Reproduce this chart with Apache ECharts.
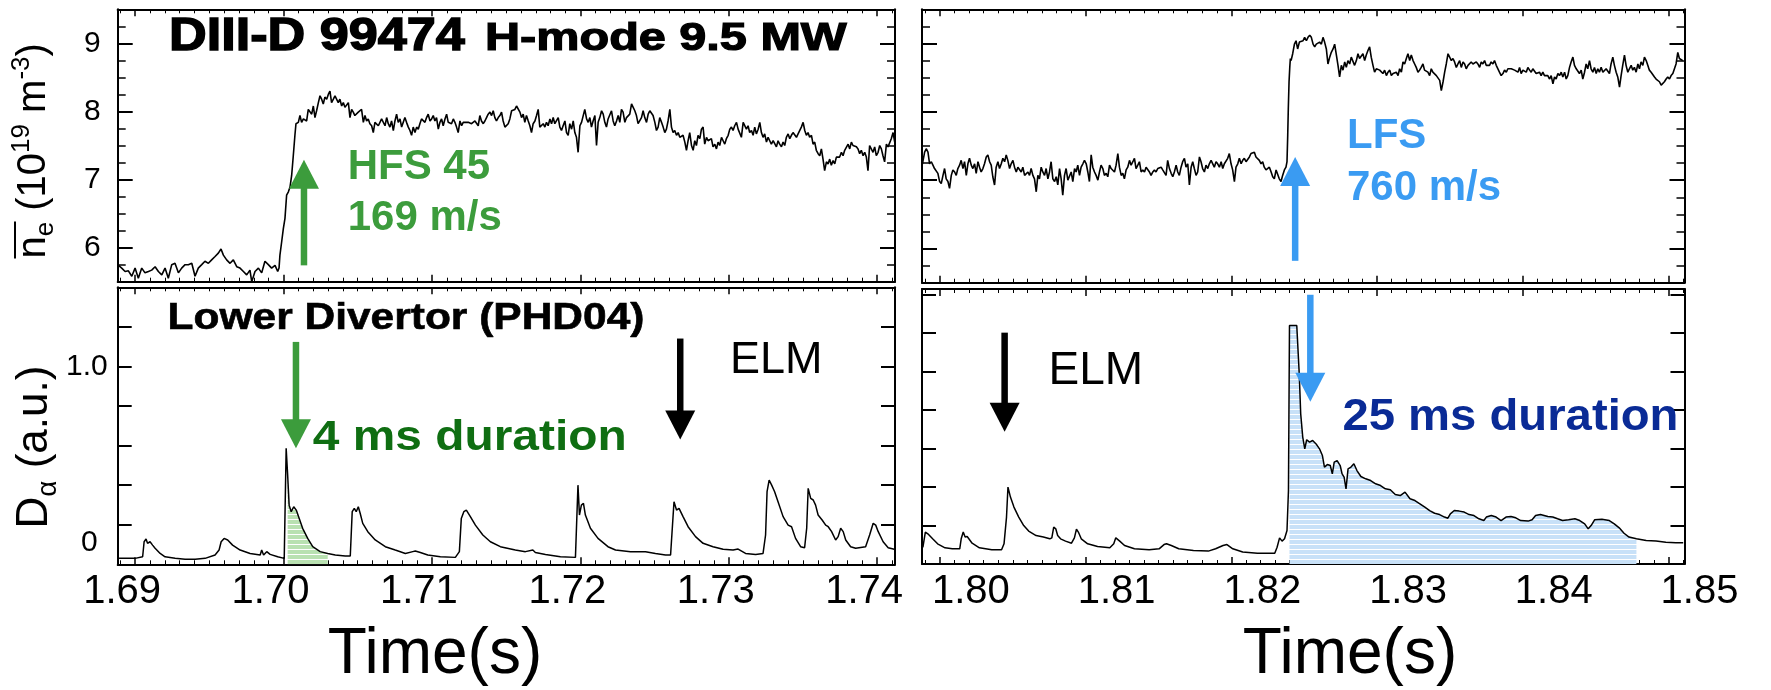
<!DOCTYPE html>
<html>
<head>
<meta charset="utf-8">
<title>DIII-D 99474 pellet injection</title>
<script src="https://cdn.jsdelivr.net/npm/echarts@6/dist/echarts.min.js"></script>
<style>
  html, body { margin: 0; padding: 0; background: #ffffff; }
  #chart { width: 1771px; height: 690px; }
</style>
</head>
<body>
<div id="chart"></div>
<script>
// ---------------------------------------------------------------------------
// Data: line-averaged density (10^19 m^-3) and lower divertor D-alpha (a.u.)
// Each sample is [time (s), value].
// ---------------------------------------------------------------------------

// Time windows and tick labels of the two columns
const leftTimeRange = [1.68883, 1.7412];
const rightTimeRange = [1.79877, 1.8511];
const leftTimeLabels = ['1.69', '1.70', '1.71', '1.72', '1.73', '1.74'];
const rightTimeLabels = ['1.80', '1.81', '1.82', '1.83', '1.84', '1.85'];
const densityRange = [5.5, 9.5];
const densityLabels = ['6', '7', '8', '9'];
const dalphaLeftRange = [0, 1.4];
const dalphaRightRange = [0, 1.43];
const dalphaLabels = ['0', '1.0'];

// Density, HFS pellet (left column)
const neLeft = [[1.68883,5.75],[1.68910,5.70],[1.68933,5.65],[1.68955,5.66],[1.68978,5.58],[1.69000,5.70],[1.69022,5.55],[1.69045,5.70],[1.69067,5.63],[1.69090,5.65],[1.69112,5.67],[1.69135,5.72],[1.69157,5.65],[1.69180,5.60],[1.69202,5.70],[1.69224,5.55],[1.69247,5.75],[1.69269,5.77],[1.69292,5.63],[1.69314,5.70],[1.69337,5.75],[1.69359,5.75],[1.69382,5.77],[1.69404,5.58],[1.69426,5.70],[1.69449,5.75],[1.69471,5.80],[1.69494,5.77],[1.69516,5.82],[1.69539,5.87],[1.69561,5.92],[1.69579,5.98],[1.69595,5.89],[1.69617,5.82],[1.69640,5.77],[1.69662,5.82],[1.69685,5.72],[1.69707,5.70],[1.69730,5.65],[1.69752,5.60],[1.69774,5.67],[1.69786,5.50],[1.69808,5.65],[1.69831,5.70],[1.69853,5.63],[1.69875,5.80],[1.69898,5.75],[1.69920,5.70],[1.69943,5.74],[1.69961,5.65],[1.69970,5.70],[1.69976,5.89],[1.69988,6.09],[1.69999,6.28],[1.70010,6.43],[1.70021,6.77],[1.70033,6.82],[1.70044,6.89],[1.70055,7.06],[1.70066,7.35],[1.70077,7.65],[1.70084,7.82],[1.70100,7.84],[1.70111,7.94],[1.70122,7.84],[1.70134,7.89],[1.70145,7.91],[1.70156,7.86],[1.70167,8.03],[1.70178,8.01],[1.70190,7.96],[1.70201,8.08],[1.70212,7.91],[1.70223,8.01],[1.70235,8.13],[1.70246,8.23],[1.70257,8.18],[1.70268,8.11],[1.70279,8.21],[1.70291,8.18],[1.70302,8.25],[1.70313,8.30],[1.70324,8.13],[1.70336,8.18],[1.70347,8.23],[1.70358,8.21],[1.70369,8.13],[1.70380,8.18],[1.70392,8.08],[1.70403,8.13],[1.70414,8.06],[1.70437,8.13],[1.70448,7.91],[1.70459,8.03],[1.70470,7.99],[1.70481,7.94],[1.70504,7.99],[1.70526,8.03],[1.70538,7.84],[1.70549,7.94],[1.70560,7.86],[1.70571,7.89],[1.70582,7.82],[1.70594,7.79],[1.70605,7.69],[1.70616,7.84],[1.70627,7.86],[1.70639,7.79],[1.70661,7.89],[1.70684,7.79],[1.70695,7.91],[1.70706,7.82],[1.70717,7.77],[1.70728,7.86],[1.70740,7.72],[1.70751,7.86],[1.70762,7.96],[1.70773,7.84],[1.70785,7.89],[1.70796,7.77],[1.70807,7.84],[1.70818,7.91],[1.70829,7.84],[1.70841,7.77],[1.70852,7.72],[1.70863,7.65],[1.70874,7.77],[1.70886,7.69],[1.70897,7.77],[1.70908,7.74],[1.70919,7.82],[1.70930,7.89],[1.70953,7.84],[1.70964,7.91],[1.70975,7.96],[1.70987,7.86],[1.70998,7.89],[1.71009,7.94],[1.71020,7.86],[1.71031,7.91],[1.71043,7.74],[1.71054,7.84],[1.71065,7.89],[1.71076,7.79],[1.71088,7.89],[1.71099,7.96],[1.71110,7.84],[1.71121,7.86],[1.71132,7.82],[1.71144,7.89],[1.71155,7.84],[1.71166,7.77],[1.71177,7.69],[1.71189,7.86],[1.71200,7.79],[1.71211,7.84],[1.71222,7.82],[1.71245,7.84],[1.71267,7.82],[1.71290,7.86],[1.71312,7.79],[1.71323,7.94],[1.71334,7.86],[1.71346,7.82],[1.71357,7.86],[1.71368,7.91],[1.71379,7.96],[1.71391,7.99],[1.71402,7.94],[1.71413,8.01],[1.71424,7.91],[1.71435,7.86],[1.71447,7.91],[1.71458,7.94],[1.71469,7.99],[1.71480,7.86],
[1.71492,7.77],[1.71514,7.82],[1.71525,7.89],[1.71537,8.01],[1.71548,7.99],[1.71559,8.03],[1.71570,8.08],[1.71581,8.08],[1.71593,7.99],[1.71604,7.91],[1.71615,7.96],[1.71626,7.84],[1.71637,7.94],[1.71649,7.86],[1.71660,7.79],[1.71671,7.69],[1.71682,7.82],[1.71694,7.86],[1.71705,7.94],[1.71716,8.03],[1.71727,7.77],[1.71739,7.79],[1.71750,7.82],[1.71761,7.77],[1.71772,7.84],[1.71783,7.79],[1.71795,7.89],[1.71806,7.82],[1.71817,7.91],[1.71828,7.82],[1.71840,7.84],[1.71851,7.91],[1.71862,7.77],[1.71873,7.72],[1.71884,7.79],[1.71896,7.86],[1.71907,7.69],[1.71918,7.65],[1.71929,7.82],[1.71941,7.74],[1.71952,7.86],[1.71963,7.69],[1.71974,7.62],[1.71985,7.40],[1.71997,7.79],[1.72008,7.84],[1.72019,7.86],[1.72030,8.03],[1.72042,7.89],[1.72053,7.84],[1.72064,7.91],[1.72075,7.77],[1.72086,7.86],[1.72098,7.94],[1.72109,7.50],[1.72120,7.84],[1.72131,7.91],[1.72143,8.01],[1.72154,7.96],[1.72165,7.84],[1.72176,7.77],[1.72187,7.89],[1.72199,7.91],[1.72210,8.01],[1.72221,7.86],[1.72232,7.79],[1.72244,7.86],[1.72255,7.94],[1.72266,7.84],[1.72277,8.03],[1.72288,7.99],[1.72300,7.84],[1.72311,7.91],[1.72322,7.89],[1.72333,7.96],[1.72345,8.11],[1.72356,8.06],[1.72367,8.01],[1.72378,7.94],[1.72389,7.82],[1.72401,7.84],[1.72412,7.91],[1.72423,8.01],[1.72434,7.91],[1.72446,7.84],[1.72457,7.96],[1.72468,8.01],[1.72479,8.03],[1.72490,7.94],[1.72502,7.84],[1.72513,7.72],[1.72524,7.77],[1.72535,7.91],[1.72547,7.84],[1.72558,7.77],[1.72569,7.69],[1.72580,7.74],[1.72591,7.86],[1.72603,8.03],[1.72614,7.77],[1.72625,7.69],[1.72636,7.72],[1.72648,7.65],[1.72659,7.69],[1.72670,7.62],[1.72681,7.60],[1.72692,7.65],[1.72704,7.55],[1.72715,7.43],[1.72726,7.57],[1.72737,7.69],[1.72749,7.50],[1.72760,7.43],[1.72771,7.57],[1.72782,7.50],[1.72793,7.65],[1.72805,7.60],[1.72816,7.74],[1.72827,7.77],[1.72838,7.52],[1.72850,7.62],[1.72861,7.57],[1.72872,7.55],[1.72883,7.60],[1.72894,7.48],[1.72906,7.52],[1.72917,7.45],[1.72928,7.55],[1.72939,7.50],[1.72951,7.62],[1.72962,7.57],[1.72973,7.52],[1.72984,7.60],[1.72996,7.65],[1.73007,7.74],[1.73018,7.77],[1.73029,7.72],[1.73040,7.79],[1.73052,7.84],[1.73063,7.74],[1.73074,7.72],[1.73085,7.62],[1.73097,7.84],[1.73108,7.86],[1.73119,7.74],[1.73130,7.79],[1.73141,7.69],[1.73153,7.72],[1.73164,7.65],[1.73175,7.77],[1.73186,7.67],[1.73198,7.74],[1.73209,7.84],[1.73220,7.69],[1.73231,7.62],[1.73242,7.67],[1.73254,7.55],[1.73265,7.62],[1.73276,7.57],[1.73287,7.52],[1.73299,7.57],[1.73310,7.55],[1.73321,7.48],[1.73332,7.57],[1.73343,7.52],[1.73355,7.48],[1.73366,7.55],[1.73377,7.50],[1.73388,7.62],[1.73400,7.67],[1.73411,7.60],[1.73422,7.65],[1.73433,7.69],[1.73444,7.67],[1.73456,7.62],[1.73467,7.67],[1.73478,7.69],[1.73489,7.77],[1.73501,7.84],[1.73512,7.72],[1.73523,7.65],[1.73534,7.69],[1.73545,7.62],[1.73557,7.65],[1.73568,7.52],[1.73579,7.55],[1.73590,7.43],[1.73602,7.38],[1.73613,7.35],[1.73624,7.45],[1.73635,7.30],[1.73646,7.13],[1.73658,7.26],[1.73669,7.23],[1.73680,7.30],[1.73691,7.21],[1.73703,7.28],[1.73714,7.23],[1.73725,7.33],[1.73736,7.35],[1.73747,7.33],[1.73759,7.40],[1.73770,7.35],[1.73781,7.43],[1.73792,7.45],[1.73804,7.52],[1.73815,7.45],[1.73826,7.55],[1.73837,7.50],[1.73848,7.52],[1.73860,7.48],[1.73871,7.45],[1.73882,7.38],[1.73893,7.43],[1.73905,7.35],[1.73916,7.40],[1.73927,7.33],[1.73938,7.13],[1.73949,7.50],[1.73961,7.52],[1.73972,7.40],[1.73983,7.48],[1.73994,7.35],[1.74006,7.40],[1.74017,7.50],[1.74028,7.45],[1.74039,7.35],[1.74050,7.26],[1.74062,7.52],[1.74073,7.48],[1.74084,7.50],[1.74095,7.60],[1.74107,7.69],[1.74118,7.55]];

// Density, LFS pellet (right column)
const neRight = [[1.79872,7.17],[1.79883,7.27],[1.79895,7.41],[1.79906,7.46],[1.79918,7.41],[1.79929,7.24],[1.79941,7.27],[1.79952,7.22],[1.79963,7.17],[1.79975,7.19],[1.79986,7.10],[1.79998,6.98],[1.80009,6.95],[1.80021,7.07],[1.80032,7.17],[1.80043,7.02],[1.80055,6.98],[1.80066,6.88],[1.80078,7.07],[1.80089,7.15],[1.80101,7.12],[1.80112,7.07],[1.80123,7.17],[1.80135,7.22],[1.80146,7.29],[1.80158,7.17],[1.80169,7.27],[1.80181,7.07],[1.80192,7.24],[1.80203,7.32],[1.80215,7.22],[1.80226,7.17],[1.80238,7.24],[1.80249,7.10],[1.80261,7.27],[1.80272,7.19],[1.80283,7.12],[1.80295,7.17],[1.80306,7.24],[1.80318,7.34],[1.80329,7.37],[1.80341,7.27],[1.80352,7.22],[1.80363,7.05],[1.80375,6.93],[1.80386,7.19],[1.80398,7.27],[1.80409,7.17],[1.80421,7.24],[1.80432,7.32],[1.80444,7.27],[1.80455,7.37],[1.80466,7.29],[1.80478,7.17],[1.80489,7.24],[1.80501,7.29],[1.80512,7.19],[1.80524,7.12],[1.80535,7.19],[1.80546,7.17],[1.80558,7.12],[1.80569,7.19],[1.80581,7.07],[1.80592,7.05],[1.80604,7.12],[1.80615,7.07],[1.80626,7.17],[1.80638,7.07],[1.80649,7.02],[1.80661,6.83],[1.80672,7.07],[1.80683,7.02],[1.80695,7.19],[1.80706,7.12],[1.80718,7.07],[1.80729,7.17],[1.80741,7.02],[1.80752,7.12],[1.80763,7.27],[1.80775,7.02],[1.80787,6.98],[1.80798,7.05],[1.80809,6.93],[1.80821,7.17],[1.80832,7.02],[1.80843,6.78],[1.80855,7.07],[1.80866,7.17],[1.80878,7.00],[1.80889,7.02],[1.80901,7.12],[1.80912,6.98],[1.80924,7.17],[1.80935,7.12],[1.80946,7.22],[1.80958,7.07],[1.80969,7.19],[1.80981,7.24],[1.80992,7.29],[1.81004,7.24],[1.81015,7.12],[1.81026,6.98],[1.81038,7.37],[1.81049,7.19],[1.81061,7.12],[1.81072,7.07],[1.81084,7.00],[1.81095,7.12],[1.81106,7.22],[1.81118,7.17],[1.81129,7.07],[1.81141,7.10],[1.81152,7.05],[1.81164,7.22],[1.81175,7.17],[1.81186,7.19],[1.81198,7.12],[1.81209,7.22],[1.81221,7.39],[1.81232,7.19],[1.81244,7.07],[1.81255,7.10],[1.81266,7.02],[1.81278,7.15],[1.81289,7.19],[1.81301,7.29],[1.81312,7.22],[1.81324,7.27],[1.81335,7.32],[1.81346,7.17],[1.81358,7.22],[1.81369,7.27],[1.81381,7.12],[1.81392,7.15],[1.81404,7.12],[1.81415,7.19],[1.81426,7.17],[1.81438,7.12],[1.81449,7.07],[1.81461,7.12],[1.81472,7.15],[1.81483,7.12],[1.81495,7.17],[1.81506,7.15],[1.81518,7.19],[1.81529,7.15],[1.81541,7.17],[1.81552,7.07],[1.81563,7.29],[1.81575,7.17],[1.81587,7.10],[1.81598,7.05],[1.81609,7.12],[1.81621,7.22],[1.81632,7.12],[1.81643,7.07],[1.81655,7.19],[1.81666,7.27],[1.81678,7.32],[1.81689,7.19],[1.81701,7.24],[1.81712,6.93],[1.81724,7.19],[1.81735,7.27],[1.81746,7.17],[1.81758,7.07],[1.81769,7.12],[1.81781,7.34],[1.81792,7.27],[1.81803,7.17],[1.81815,7.12],[1.81826,7.22],[1.81838,7.17],[1.81849,7.24],[1.81861,7.29],[1.81872,7.27],[1.81883,7.19],[1.81895,7.27],[1.81906,7.24],[1.81918,7.19],[1.81930,7.27],[1.81941,7.17],[1.81952,7.24],[1.81964,7.22],[1.81975,7.32],[1.81986,7.39],[1.81998,7.24],[1.82009,7.15],[1.82021,6.98],[1.82032,7.19],[1.82044,7.24],[1.82055,7.32],[1.82067,7.24],[1.82078,7.29],[1.82089,7.32],[1.82101,7.27],[1.82112,7.29],[1.82124,7.34],[1.82135,7.39],[1.82146,7.37],[1.82158,7.41],[1.82169,7.34],[1.82181,7.32],[1.82192,7.29],[1.82204,7.24],[1.82215,7.27],[1.82226,7.19],[1.82238,7.15],[1.82249,7.17],[1.82261,7.19],[1.82273,7.12],[1.82284,7.05],[1.82295,7.02],[1.82307,7.15],[1.82318,7.17],[1.82329,7.02],[1.82341,6.98],[1.82352,7.07],[1.82364,7.15],[1.82375,7.19],[1.82382,7.27],[1.82387,7.66],[1.82391,8.05],[1.82396,8.44],[1.82401,8.65],[1.82405,8.78],[1.82410,8.75],[1.82421,8.85],[1.82433,8.99],[1.82444,9.04],[1.82455,8.92],[1.82467,9.02],[1.82478,9.04],
[1.82492,9.04],[1.82503,9.09],[1.82515,9.04],[1.82526,9.09],[1.82538,9.12],[1.82549,9.09],[1.82561,8.99],[1.82572,8.95],[1.82583,8.99],[1.82595,8.97],[1.82606,9.02],[1.82618,8.99],[1.82629,9.09],[1.82640,9.02],[1.82652,8.92],[1.82663,8.70],[1.82675,8.80],[1.82686,8.87],[1.82698,8.92],[1.82709,8.99],[1.82721,8.83],[1.82732,8.68],[1.82743,8.51],[1.82755,8.68],[1.82766,8.61],[1.82778,8.73],[1.82789,8.65],[1.82800,8.75],[1.82812,8.70],[1.82823,8.80],[1.82835,8.78],[1.82846,8.68],[1.82858,8.75],[1.82869,8.85],[1.82880,8.78],[1.82892,8.80],[1.82903,8.85],[1.82915,8.75],[1.82926,8.83],[1.82938,8.90],[1.82949,8.95],[1.82960,8.80],[1.82972,8.68],[1.82983,8.58],[1.82995,8.63],[1.83006,8.65],[1.83018,8.61],[1.83029,8.63],[1.83040,8.56],[1.83052,8.61],[1.83064,8.53],[1.83075,8.58],[1.83087,8.61],[1.83098,8.53],[1.83110,8.56],[1.83121,8.56],[1.83132,8.58],[1.83144,8.53],[1.83155,8.63],[1.83167,8.58],[1.83178,8.73],[1.83189,8.70],[1.83201,8.78],[1.83212,8.85],[1.83224,8.75],[1.83235,8.83],[1.83247,8.75],[1.83258,8.70],[1.83269,8.65],[1.83281,8.58],[1.83292,8.61],[1.83303,8.65],[1.83315,8.70],[1.83326,8.61],[1.83338,8.63],[1.83349,8.58],[1.83361,8.53],[1.83372,8.63],[1.83383,8.58],[1.83395,8.56],[1.83407,8.53],[1.83418,8.51],[1.83430,8.46],[1.83441,8.31],[1.83453,8.44],[1.83464,8.58],[1.83475,8.70],[1.83487,8.85],[1.83498,8.83],[1.83510,8.75],[1.83521,8.78],[1.83532,8.73],[1.83544,8.65],[1.83555,8.70],[1.83567,8.75],[1.83578,8.65],[1.83590,8.73],[1.83601,8.70],[1.83612,8.63],[1.83624,8.68],[1.83635,8.70],[1.83646,8.73],[1.83658,8.70],[1.83669,8.68],[1.83681,8.73],[1.83692,8.70],[1.83704,8.65],[1.83715,8.73],[1.83726,8.70],[1.83738,8.75],[1.83749,8.68],[1.83760,8.70],[1.83772,8.68],[1.83783,8.73],[1.83795,8.70],[1.83806,8.75],[1.83818,8.68],[1.83829,8.70],[1.83840,8.58],[1.83852,8.53],[1.83864,8.56],[1.83875,8.61],[1.83887,8.58],[1.83898,8.63],[1.83909,8.65],[1.83921,8.63],[1.83932,8.65],[1.83944,8.61],[1.83955,8.63],[1.83967,8.58],[1.83978,8.65],[1.83989,8.56],[1.84001,8.61],[1.84012,8.63],[1.84024,8.58],[1.84035,8.65],[1.84047,8.61],[1.84058,8.58],[1.84069,8.63],[1.84081,8.61],[1.84092,8.56],[1.84103,8.58],[1.84115,8.58],[1.84126,8.53],[1.84138,8.58],[1.84149,8.53],[1.84161,8.51],[1.84172,8.53],[1.84183,8.48],[1.84195,8.53],[1.84207,8.41],[1.84218,8.51],[1.84229,8.48],[1.84241,8.56],[1.84252,8.53],[1.84264,8.58],[1.84275,8.51],[1.84287,8.58],[1.84298,8.48],[1.84309,8.53],[1.84321,8.65],[1.84332,8.73],[1.84344,8.80],[1.84355,8.68],[1.84367,8.63],[1.84378,8.65],[1.84389,8.56],[1.84401,8.61],[1.84412,8.48],[1.84424,8.58],[1.84435,8.70],[1.84446,8.63],[1.84458,8.75],[1.84469,8.63],[1.84481,8.58],[1.84492,8.65],[1.84504,8.56],[1.84515,8.63],[1.84526,8.58],[1.84538,8.65],[1.84550,8.58],[1.84561,8.56],[1.84572,8.63],[1.84584,8.61],[1.84595,8.56],[1.84606,8.70],[1.84618,8.80],[1.84629,8.68],[1.84641,8.58],[1.84652,8.51],[1.84664,8.36],[1.84675,8.53],[1.84686,8.68],[1.84698,8.83],[1.84709,8.68],[1.84721,8.58],[1.84732,8.63],[1.84744,8.68],[1.84755,8.61],[1.84766,8.65],[1.84778,8.58],[1.84790,8.70],[1.84801,8.63],[1.84812,8.73],[1.84824,8.68],[1.84835,8.80],[1.84847,8.75],[1.84858,8.68],[1.84869,8.61],[1.84881,8.58],[1.84893,8.56],[1.84904,8.51],[1.84915,8.48],[1.84927,8.46],[1.84938,8.44],[1.84950,8.39],[1.84961,8.41],[1.84972,8.44],[1.84984,8.48],[1.84995,8.51],[1.85007,8.48],[1.85018,8.53],[1.85030,8.56],[1.85041,8.63],[1.85052,8.70],[1.85064,8.87],[1.85075,8.78],[1.85087,8.78],[1.85098,8.75]];

// Lower divertor D-alpha, HFS pellet (left column)
const dalphaLeft = [[1.68892,0.030],[1.68933,0.030],[1.69000,0.030],[1.69051,0.038],[1.69061,0.114],[1.69074,0.128],[1.69084,0.106],[1.69101,0.114],[1.69118,0.097],[1.69135,0.081],[1.69169,0.055],[1.69202,0.038],[1.69270,0.030],[1.69337,0.025],[1.69405,0.025],[1.69472,0.030],[1.69539,0.047],[1.69566,0.072],[1.69580,0.114],[1.69600,0.131],[1.69624,0.123],[1.69657,0.097],[1.69708,0.072],[1.69775,0.055],[1.69843,0.047],[1.69853,0.072],[1.69866,0.047],[1.69887,0.064],[1.69910,0.050],[1.69961,0.038],[1.70005,0.030],[1.70018,0.586],[1.70028,0.451],[1.70038,0.299],[1.70052,0.266],[1.70069,0.291],[1.70086,0.274],[1.70106,0.232],[1.70129,0.182],[1.70163,0.131],[1.70197,0.089],[1.70247,0.064],[1.70298,0.055],[1.70349,0.047],[1.70416,0.042],[1.70450,0.042],[1.70463,0.266],[1.70477,0.283],[1.70490,0.266],[1.70504,0.291],[1.70517,0.257],[1.70534,0.207],[1.70568,0.165],[1.70618,0.123],[1.70686,0.089],[1.70753,0.072],[1.70821,0.055],[1.70871,0.064],[1.70888,0.067],[1.70922,0.060],[1.70972,0.047],[1.71057,0.038],[1.71158,0.035],[1.71185,0.064],[1.71198,0.232],[1.71215,0.266],[1.71232,0.274],[1.71245,0.283],[1.71259,0.241],[1.71293,0.198],[1.71343,0.148],[1.71394,0.114],[1.71461,0.089],[1.71562,0.072],[1.71630,0.064],[1.71680,0.072],[1.71697,0.060],[1.71765,0.050],[1.71866,0.038],[1.71967,0.035],[1.71984,0.400],[1.71994,0.249],[1.72007,0.299],[1.72021,0.308],[1.72034,0.249],[1.72068,0.182],[1.72119,0.131],[1.72186,0.089],[1.72237,0.072],[1.72338,0.064],[1.72439,0.064],[1.72506,0.055],[1.72574,0.047],[1.72608,0.047],[1.72631,0.316],[1.72648,0.274],[1.72665,0.283],[1.72692,0.241],[1.72726,0.190],[1.72776,0.140],[1.72827,0.106],[1.72894,0.089],[1.72962,0.076],[1.73029,0.072],[1.73063,0.077],[1.73113,0.055],[1.73181,0.050],[1.73231,0.055],[1.73248,0.148],[1.73258,0.367],[1.73272,0.426],[1.73289,0.400],[1.73309,0.367],[1.73332,0.316],[1.73366,0.241],[1.73400,0.198],[1.73423,0.190],[1.73450,0.131],[1.73484,0.089],[1.73511,0.084],[1.73525,0.182],[1.73535,0.384],[1.73552,0.333],[1.73569,0.325],[1.73585,0.299],[1.73602,0.249],[1.73629,0.224],[1.73653,0.198],[1.73670,0.190],[1.73693,0.165],[1.73720,0.123],[1.73737,0.140],[1.73754,0.182],[1.73771,0.165],[1.73788,0.123],[1.73821,0.089],[1.73855,0.081],[1.73922,0.089],[1.73949,0.148],[1.73973,0.207],[1.73990,0.198],[1.74007,0.165],[1.74040,0.114],[1.74074,0.084],[1.74108,0.077],[1.74132,0.072]];

// Lower divertor D-alpha, LFS pellet (right column)
const dalphaRight = [[1.79883,0.087],[1.79900,0.166],[1.79917,0.157],[1.79950,0.131],[1.79984,0.105],[1.80035,0.084],[1.80085,0.079],[1.80136,0.079],[1.80146,0.131],[1.80160,0.166],[1.80173,0.140],[1.80187,0.143],[1.80221,0.108],[1.80271,0.084],[1.80356,0.074],[1.80423,0.074],[1.80440,0.105],[1.80457,0.244],[1.80467,0.400],[1.80484,0.348],[1.80508,0.296],[1.80541,0.244],[1.80575,0.200],[1.80609,0.171],[1.80660,0.148],[1.80710,0.140],[1.80754,0.131],[1.80768,0.136],[1.80781,0.192],[1.80795,0.183],[1.80808,0.148],[1.80828,0.131],[1.80862,0.119],[1.80903,0.108],[1.80923,0.136],[1.80937,0.181],[1.80950,0.166],[1.80970,0.131],[1.81014,0.105],[1.81082,0.091],[1.81166,0.084],[1.81193,0.105],[1.81207,0.136],[1.81234,0.119],[1.81267,0.096],[1.81335,0.079],[1.81436,0.074],[1.81504,0.079],[1.81538,0.101],[1.81555,0.105],[1.81588,0.096],[1.81639,0.079],[1.81740,0.070],[1.81842,0.067],[1.81892,0.079],[1.81943,0.096],[1.81970,0.101],[1.82010,0.079],[1.82078,0.062],[1.82179,0.056],[1.82298,0.056],[1.82314,0.087],[1.82331,0.136],[1.82348,0.119],[1.82365,0.131],[1.82382,0.174],[1.82392,0.382],[1.82399,1.240],[1.82449,1.240],[1.82456,1.235],[1.82466,0.989],[1.82476,0.781],[1.82490,0.660],[1.82504,0.599],[1.82517,0.646],[1.82537,0.634],[1.82558,0.642],[1.82585,0.621],[1.82605,0.599],[1.82625,0.564],[1.82639,0.504],[1.82659,0.517],[1.82679,0.512],[1.82693,0.469],[1.82706,0.530],[1.82726,0.538],[1.82747,0.512],[1.82760,0.469],[1.82774,0.452],[1.82787,0.391],[1.82801,0.495],[1.82821,0.504],[1.82841,0.521],[1.82862,0.486],[1.82889,0.455],[1.82922,0.443],[1.82956,0.434],[1.82990,0.417],[1.83024,0.408],[1.83057,0.391],[1.83091,0.386],[1.83125,0.361],[1.83159,0.356],[1.83192,0.374],[1.83226,0.339],[1.83260,0.330],[1.83294,0.313],[1.83328,0.296],[1.83361,0.278],[1.83395,0.264],[1.83429,0.257],[1.83463,0.244],[1.83486,0.238],[1.83503,0.261],[1.83530,0.278],[1.83564,0.275],[1.83598,0.270],[1.83632,0.257],[1.83665,0.252],[1.83699,0.235],[1.83733,0.226],[1.83750,0.244],[1.83784,0.252],[1.83817,0.244],[1.83851,0.226],[1.83885,0.244],[1.83919,0.247],[1.83952,0.240],[1.83986,0.226],[1.84037,0.223],[1.84064,0.230],[1.84088,0.252],[1.84121,0.257],[1.84172,0.247],[1.84206,0.244],[1.84239,0.235],[1.84273,0.226],[1.84314,0.230],[1.84358,0.235],[1.84391,0.226],[1.84425,0.209],[1.84449,0.183],[1.84469,0.200],[1.84493,0.230],[1.84543,0.233],[1.84594,0.226],[1.84628,0.209],[1.84662,0.188],[1.84695,0.160],[1.84729,0.140],[1.84780,0.131],[1.84847,0.122],[1.84915,0.119],[1.84982,0.113],[1.85050,0.110],[1.85101,0.110]];

// Time windows of the shaded D-alpha response (4 ms HFS, 25 ms LFS)
const hfsFillWindow = [1.70020, 1.70298];
const lfsFillWindow = [1.82395, 1.84805];

// Arrows: [time, tail value, tip value]
const hfsDensityArrow = [1.70138, 5.74, 7.29];
const hfsDalphaArrow = [1.70084, 1.124, 0.586];
const elmLeftArrow = [1.72673, 1.141, 0.631];
const elmRightArrow = [1.80444, 1.203, 0.688];
const lfsDensityArrow = [1.82438, 5.82, 7.34];
const lfsDalphaArrow = [1.82542, 1.40, 0.844];

// ---------------------------------------------------------------------------
// Chart
// ---------------------------------------------------------------------------
const FONT = "'Liberation Sans', Arial, Helvetica, sans-serif";
const BLACK = '#000000';
const GREEN = '#3c9c3c';
const DARK_GREEN = '#0f6e12';
const BLUE = '#3a9bf2';
const DARK_BLUE = '#0a2b96';

function pickLabel(list) {
  return function (v) {
    for (const s of list) {
      if (Math.abs(parseFloat(s) - v) < 1e-7) return s;
    }
    return '';
  };
}

const axisLineStyle = { show: true, onZero: false, lineStyle: { color: BLACK, width: 2 } };

function timeAxis(gridIndex, range, position, labels, labelPadding) {
  return {
    type: 'value', gridIndex: gridIndex, position: position,
    min: range[0], max: range[1],
    minInterval: 0.01, maxInterval: 0.01, splitNumber: 5,
    axisLine: axisLineStyle,
    axisTick: { show: true, inside: true, length: 7, lineStyle: { color: BLACK, width: 1.5 } },
    minorTick: { show: true, splitNumber: 10, length: 4, lineStyle: { color: BLACK, width: 1 } },
    splitLine: { show: false },
    minorSplitLine: { show: false },
    axisLabel: labels ? {
      show: true, margin: 8, color: BLACK, fontFamily: FONT, fontSize: 40,
      padding: labelPadding, formatter: pickLabel(labels)
    } : { show: false }
  };
}

function densityAxis(gridIndex, position, labels) {
  return {
    type: 'value', gridIndex: gridIndex, position: position,
    min: densityRange[0], max: densityRange[1],
    minInterval: 1, maxInterval: 1,
    axisLine: axisLineStyle,
    axisTick: { show: true, inside: true, length: 15, lineStyle: { color: BLACK, width: 2 } },
    minorTick: { show: true, splitNumber: 4, length: 8, lineStyle: { color: BLACK, width: 1.5 } },
    splitLine: { show: false },
    minorSplitLine: { show: false },
    axisLabel: labels ? {
      show: true, margin: 17, color: BLACK, fontFamily: FONT, fontSize: 30,
      formatter: pickLabel(labels)
    } : { show: false }
  };
}

function dalphaAxis(gridIndex, position, range, labels) {
  return {
    type: 'value', gridIndex: gridIndex, position: position,
    min: range[0], max: range[1], interval: 0.2,
    axisLine: axisLineStyle,
    axisTick: { show: true, inside: true, length: 14, lineStyle: { color: BLACK, width: 2 } },
    splitLine: { show: false },
    axisLabel: labels ? {
      show: true, margin: 10, color: BLACK, fontFamily: FONT, fontSize: 30,
      formatter: function (v) {
        const s = pickLabel(labels)(v);
        // the zero label sits a little above the baseline
        return s === labels[0] ? '{zero|' + s + '}' : s;
      },
      rich: { zero: { fontFamily: FONT, fontSize: 30, color: BLACK, padding: [0, 10, 44, 0] } }
    } : { show: false }
  };
}

// striped (hatched) fill for the shaded response windows
function stripes(color) {
  const c = document.createElement('canvas');
  c.width = 8; c.height = 5;
  const g = c.getContext('2d');
  g.fillStyle = color; g.fillRect(0, 0, 8, 4);
  g.fillStyle = '#ffffff'; g.fillRect(0, 4, 8, 1);
  return { image: c, repeat: 'repeat' };
}

function inWindow(data, w) {
  return data.filter(function (p) { return p[0] >= w[0] && p[0] <= w[1]; });
}

function traceSeries(xi, yi, data, width) {
  return {
    type: 'line', xAxisIndex: xi, yAxisIndex: yi, data: data,
    showSymbol: false, symbol: 'none', silent: true, z: 3,
    lineStyle: { color: BLACK, width: width }
  };
}

function fillSeries(xi, yi, data, color) {
  return {
    type: 'line', xAxisIndex: xi, yAxisIndex: yi, data: data,
    showSymbol: false, symbol: 'none', silent: true, z: 1,
    lineStyle: { width: 0, opacity: 0 },
    areaStyle: { color: stripes(color), opacity: 1, origin: 'start' }
  };
}

const ARROW = { shaft: 6.5, headWidth: 30, headLength: 29 };

function arrowSeries(xi, yi, arrow, color) {
  return {
    type: 'custom', xAxisIndex: xi, yAxisIndex: yi, data: [arrow],
    silent: true, clip: false, z: 6,
    encode: { x: 0, y: [1, 2] },
    renderItem: function (params, api) {
      const tail = api.coord([api.value(0), api.value(1)]);
      const tip = api.coord([api.value(0), api.value(2)]);
      const dir = tip[1] > tail[1] ? 1 : -1;
      const baseY = tip[1] - dir * ARROW.headLength;
      const hw = ARROW.headWidth / 2;
      return {
        type: 'group',
        children: [
          { type: 'line', shape: { x1: tail[0], y1: tail[1], x2: tip[0], y2: baseY + dir },
            style: { stroke: color, lineWidth: ARROW.shaft } },
          { type: 'polygon', shape: { points: [[tip[0], tip[1]], [tip[0] - hw, baseY], [tip[0] + hw, baseY]] },
            style: { fill: color } }
        ]
      };
    }
  };
}

function note(text, x, y, size, opts) {
  opts = opts || {};
  const color = opts.color || BLACK;
  return {
    type: 'text', x: x, y: y, scaleX: opts.scaleX || 1, silent: true, z: 100,
    style: {
      text: text, fontFamily: FONT, fontSize: size,
      fontWeight: opts.bold ? 'bold' : 'normal',
      fill: color,
      stroke: opts.heavy ? color : null,
      lineWidth: opts.heavy || 0,
      align: opts.align || 'left', verticalAlign: 'middle'
    }
  };
}

const chart = echarts.init(document.getElementById('chart'), null, { renderer: 'canvas', width: 1771, height: 690 });

const option = {
  animation: false,
  backgroundColor: '#ffffff',
  textStyle: { fontFamily: FONT },
  grid: [
    { left: 117.7, top: 9.3, width: 777.3, height: 272.4, outerBoundsMode: 'none', containLabel: false },
    { left: 117.7, top: 287.3, width: 777.3, height: 277, outerBoundsMode: 'none', containLabel: false },
    { left: 922, top: 9.3, width: 762.5, height: 273.4, outerBoundsMode: 'none', containLabel: false },
    { left: 922, top: 289, width: 762.5, height: 275, outerBoundsMode: 'none', containLabel: false }
  ],
  xAxis: [
    timeAxis(0, leftTimeRange, 'bottom', null),
    timeAxis(0, leftTimeRange, 'top', null),
    timeAxis(1, leftTimeRange, 'bottom', leftTimeLabels, [0, 26, 0, 0]),
    timeAxis(1, leftTimeRange, 'top', null),
    timeAxis(2, rightTimeRange, 'bottom', null),
    timeAxis(2, rightTimeRange, 'top', null),
    timeAxis(3, rightTimeRange, 'bottom', rightTimeLabels, [0, 0, 0, 62]),
    timeAxis(3, rightTimeRange, 'top', null)
  ],
  yAxis: [
    densityAxis(0, 'left', densityLabels),
    densityAxis(0, 'right', null),
    dalphaAxis(1, 'left', dalphaLeftRange, dalphaLabels),
    dalphaAxis(1, 'right', dalphaLeftRange, null),
    densityAxis(2, 'left', null),
    densityAxis(2, 'right', null),
    dalphaAxis(3, 'left', dalphaRightRange, null),
    dalphaAxis(3, 'right', dalphaRightRange, null)
  ],
  series: [
    fillSeries(2, 2, inWindow(dalphaLeft, hfsFillWindow), '#b9e1b1'),
    fillSeries(6, 6, inWindow(dalphaRight, lfsFillWindow), '#c8e1f8'),
    traceSeries(0, 0, neLeft, 1.6),
    traceSeries(4, 4, neRight, 1.6),
    traceSeries(2, 2, dalphaLeft, 1.5),
    traceSeries(6, 6, dalphaRight, 1.5),
    arrowSeries(0, 0, hfsDensityArrow, GREEN),
    arrowSeries(2, 2, hfsDalphaArrow, GREEN),
    arrowSeries(2, 2, elmLeftArrow, BLACK),
    arrowSeries(6, 6, elmRightArrow, BLACK),
    arrowSeries(4, 4, lfsDensityArrow, BLUE),
    arrowSeries(6, 6, lfsDalphaArrow, BLUE)
  ],
  graphic: [
    note('DIII-D 99474', 169, 37, 45.5, { bold: true, scaleX: 1.147, heavy: 1.4 }),
    note('H-mode 9.5 MW', 485, 39.2, 39.5, { bold: true, scaleX: 1.23, heavy: 1.2 }),
    note('HFS 45', 347.7, 167.2, 42, { bold: true, color: GREEN }),
    note('169 m/s', 347.7, 218.7, 42, { bold: true, color: GREEN }),
    note('LFS', 1347, 136.7, 42, { bold: true, color: BLUE }),
    note('760 m/s', 1347, 188.3, 42, { bold: true, color: BLUE }),
    note('Lower Divertor (PHD04)', 167.6, 319.5, 36, { bold: true, scaleX: 1.18, heavy: 0.6 }),
    note('4 ms duration', 312.8, 438.3, 42, { bold: true, color: DARK_GREEN, scaleX: 1.14 }),
    note('ELM', 730, 361, 45),
    note('ELM', 1048.5, 371.7, 46),
    note('25 ms duration', 1342.4, 417.8, 45, { bold: true, color: DARK_BLUE, scaleX: 1.05 }),
    note('Time(s)', 435, 655.5, 64, { align: 'center' }),
    note('Time(s)', 1350, 655.5, 64, { align: 'center' }),
    // density axis title: overlined n_e (10^19 m^-3)
    {
      type: 'group', x: 34.3, y: 258.6, rotation: Math.PI / 2, silent: true, z: 100,
      children: [
        {
          type: 'text', x: 0, y: 0,
          style: {
            text: '{m|n}{sub|e}{m| (10}{sup|19}{m| m}{sup|-3}{m|)}',
            fontFamily: FONT, fontSize: 40, fill: BLACK, align: 'left', verticalAlign: 'middle',
            rich: {
              m: { fontFamily: FONT, fontSize: 40, lineHeight: 50, fill: BLACK, verticalAlign: 'middle' },
              sub: { fontFamily: FONT, fontSize: 26, lineHeight: 38, fill: BLACK, verticalAlign: 'bottom' },
              sup: { fontFamily: FONT, fontSize: 26, lineHeight: 26, fill: BLACK, verticalAlign: 'top' }
            }
          }
        },
        { type: 'line', shape: { x1: 0, y1: -19.3, x2: 37, y2: -19.3 }, style: { stroke: BLACK, lineWidth: 2 } }
      ]
    },
    // D-alpha axis title
    {
      type: 'group', x: 34.6, y: 528.5, rotation: Math.PI / 2, silent: true, z: 100,
      children: [
        {
          type: 'text', x: 0, y: 0,
          style: {
            text: '{m|D}{sub|α}{m| (a.u.)}',
            fontFamily: FONT, fontSize: 44, fill: BLACK, align: 'left', verticalAlign: 'middle',
            rich: {
              m: { fontFamily: FONT, fontSize: 44, lineHeight: 55, fill: BLACK, verticalAlign: 'middle' },
              sub: { fontFamily: FONT, fontSize: 28, lineHeight: 40, fill: BLACK, verticalAlign: 'bottom' }
            }
          }
        }
      ]
    }
  ]
};

chart.setOption(option);
</script>
</body>
</html>
